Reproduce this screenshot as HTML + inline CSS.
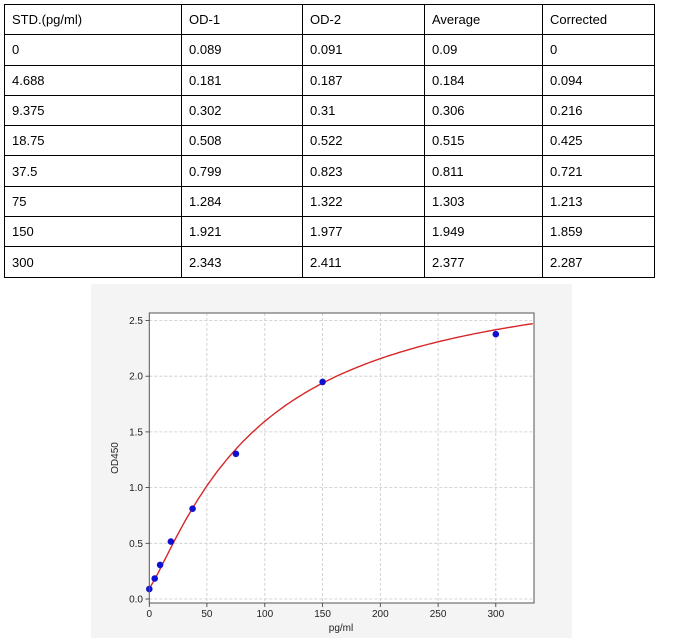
<!DOCTYPE html>
<html><head><meta charset="utf-8"><style>
body{margin:0;background:#fff;width:673px;height:638px;position:relative;overflow:hidden;font-family:"Liberation Sans",sans-serif}
table{position:absolute;left:4px;top:4px;border-collapse:collapse;font-size:13px;color:#000}
td{border:1.5px solid #000;height:30.3px;padding:0 0 0 7px;box-sizing:border-box;vertical-align:middle}
</style></head><body>
<table>
<tr><td style="width:177px">STD.(pg/ml)</td><td style="width:121px">OD-1</td><td style="width:122px">OD-2</td><td style="width:118px">Average</td><td style="width:112px">Corrected</td></tr>
<tr><td>0</td><td>0.089</td><td>0.091</td><td>0.09</td><td>0</td></tr>
<tr><td>4.688</td><td>0.181</td><td>0.187</td><td>0.184</td><td>0.094</td></tr>
<tr><td>9.375</td><td>0.302</td><td>0.31</td><td>0.306</td><td>0.216</td></tr>
<tr><td>18.75</td><td>0.508</td><td>0.522</td><td>0.515</td><td>0.425</td></tr>
<tr><td>37.5</td><td>0.799</td><td>0.823</td><td>0.811</td><td>0.721</td></tr>
<tr><td>75</td><td>1.284</td><td>1.322</td><td>1.303</td><td>1.213</td></tr>
<tr><td>150</td><td>1.921</td><td>1.977</td><td>1.949</td><td>1.859</td></tr>
<tr><td>300</td><td>2.343</td><td>2.411</td><td>2.377</td><td>2.287</td></tr>
</table>
<svg width="673" height="638" style="position:absolute;left:0;top:0" font-family="Liberation Sans, sans-serif">
<rect x="91" y="284" width="481" height="354" fill="#f4f4f4"/>
<rect x="149.3" y="313" width="384.7" height="290" fill="#fff"/>
<g stroke="#c8c8c8" stroke-dasharray="3,2" stroke-width="0.8">
<line x1="149.3" x2="534" y1="599" y2="599"/><line x1="149.3" x2="534" y1="543.3" y2="543.3"/><line x1="149.3" x2="534" y1="487.6" y2="487.6"/><line x1="149.3" x2="534" y1="431.9" y2="431.9"/><line x1="149.3" x2="534" y1="376.2" y2="376.2"/><line x1="149.3" x2="534" y1="320.5" y2="320.5"/>
<line y1="313" y2="603" x1="206.9" x2="206.9"/><line y1="313" y2="603" x1="264.8" x2="264.8"/><line y1="313" y2="603" x1="322.6" x2="322.6"/><line y1="313" y2="603" x1="380.3" x2="380.3"/><line y1="313" y2="603" x1="438.1" x2="438.1"/><line y1="313" y2="603" x1="495.8" x2="495.8"/>
</g>
<path id="c" fill="none" stroke="#d62728" stroke-width="1.4"/>
<g fill="#1010d0">
<circle cx="149.3" cy="589" r="3.3"/><circle cx="154.7" cy="578.5" r="3.3"/><circle cx="160.1" cy="564.9" r="3.3"/><circle cx="170.9" cy="541.6" r="3.3"/><circle cx="192.6" cy="508.7" r="3.3"/><circle cx="235.9" cy="453.8" r="3.3"/><circle cx="322.6" cy="381.9" r="3.3"/><circle cx="495.8" cy="334.2" r="3.3"/>
</g>
<rect x="149.3" y="313" width="384.7" height="290" fill="none" stroke="#555" stroke-width="1"/>
<g stroke="#333" stroke-width="0.8">
<line x1="145.5" x2="149.3" y1="599" y2="599"/><line x1="145.5" x2="149.3" y1="543.3" y2="543.3"/><line x1="145.5" x2="149.3" y1="487.6" y2="487.6"/><line x1="145.5" x2="149.3" y1="431.9" y2="431.9"/><line x1="145.5" x2="149.3" y1="376.2" y2="376.2"/><line x1="145.5" x2="149.3" y1="320.5" y2="320.5"/>
<line y1="603" y2="607" x1="149.3" x2="149.3"/><line y1="603" y2="607" x1="206.9" x2="206.9"/><line y1="603" y2="607" x1="264.8" x2="264.8"/><line y1="603" y2="607" x1="322.6" x2="322.6"/><line y1="603" y2="607" x1="380.3" x2="380.3"/><line y1="603" y2="607" x1="438.1" x2="438.1"/><line y1="603" y2="607" x1="495.8" x2="495.8"/>
</g>
<g font-size="10" fill="#222" text-anchor="end">
<text x="143" y="602.5">0.0</text><text x="143" y="546.8">0.5</text><text x="143" y="491.1">1.0</text><text x="143" y="435.4">1.5</text><text x="143" y="379.7">2.0</text><text x="143" y="324">2.5</text>
</g>
<g font-size="10" fill="#222" text-anchor="middle">
<text x="149.3" y="617">0</text><text x="206.9" y="617">50</text><text x="264.8" y="617">100</text><text x="322.6" y="617">150</text><text x="380.3" y="617">200</text><text x="438.1" y="617">250</text><text x="495.8" y="617">300</text>
<text x="341" y="631">pg/ml</text>
<text transform="translate(118,458) rotate(-90)">OD450</text>
</g>
</svg>
<script>
var d="";for(var i=0;i<=200;i++){var x=332*i/200;var y=3.0-2.9/(1+Math.pow(x/95,1.2));d+=(i?"L":"M")+(149.3+x*1.155).toFixed(1)+","+(599-y*111.4).toFixed(1);}
document.getElementById("c").setAttribute("d",d);
</script>
</body></html>
